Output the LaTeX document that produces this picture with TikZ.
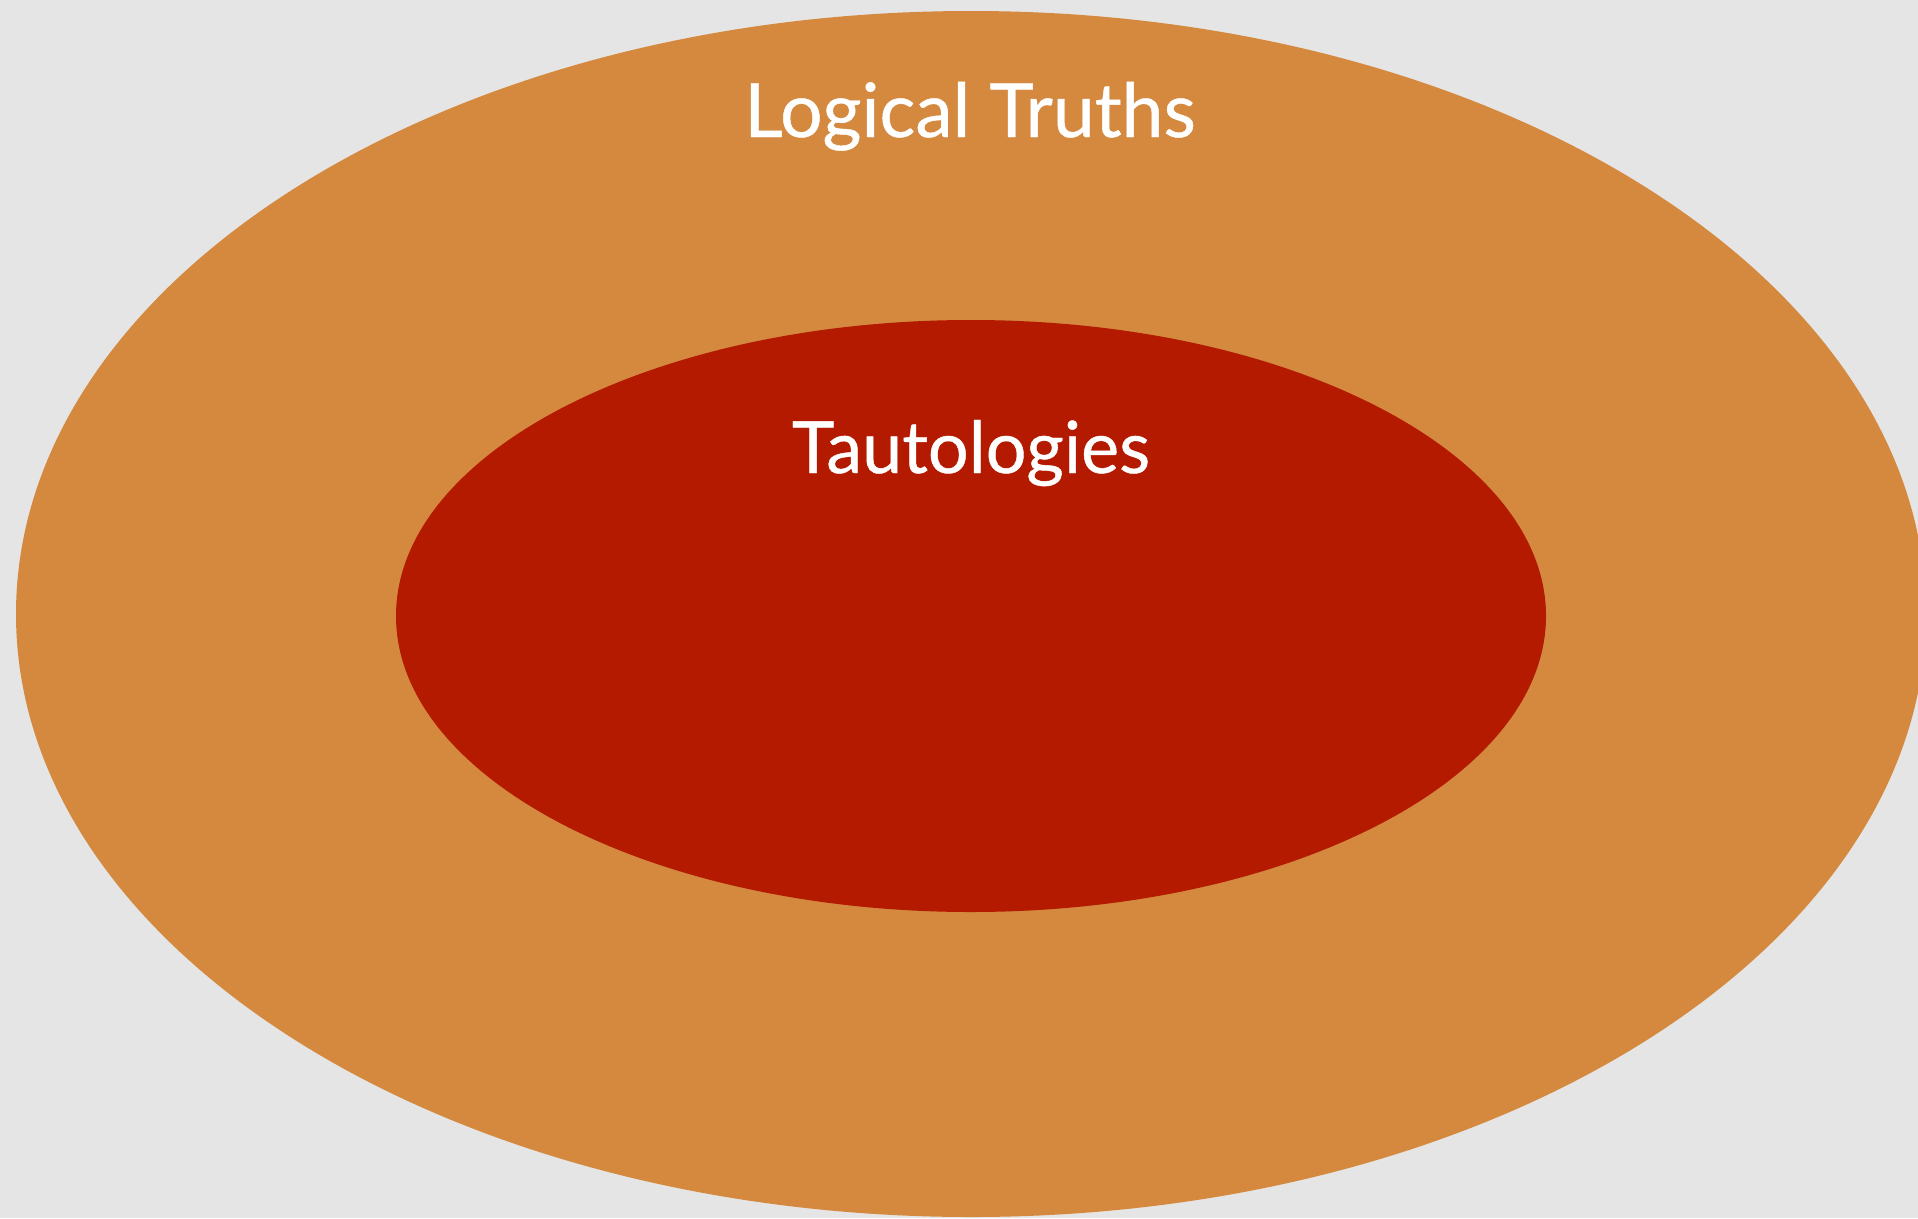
\documentclass[tikz,border=0pt]{standalone}
\usepackage{fontspec}
\setmainfont{Lato}
\newfontfamily\labelfont{Lato}[FakeBold=0.6]
\definecolor{bggray}{HTML}{E5E5E5}
\definecolor{outerorange}{HTML}{D4893F}
\definecolor{innerred}{HTML}{B31A00}
\tikzset{
  label text/.style={text=white, inner sep=0pt, anchor=base},
}
\begin{document}
\begin{tikzpicture}[x=1pt,y=-1pt]
  \useasboundingbox (0,0) rectangle (1918,1218);
  \clip (0,0) rectangle (1918,1218);
  \fill[bggray] (0,0) rectangle (1918,1218);
  \fill[outerorange] (971,614) ellipse [x radius=955, y radius=603];
  \fill[innerred] (971,616) ellipse [x radius=575, y radius=296];
  \node[label text, font=\labelfont\fontsize{75}{80}\selectfont] (outerlabel) at (970,137) {Logical Truths};
  \node[label text, font=\labelfont\fontsize{72}{75}\selectfont] (innerlabel) at (971,473) {Tautologies};
\end{tikzpicture}
\end{document}
